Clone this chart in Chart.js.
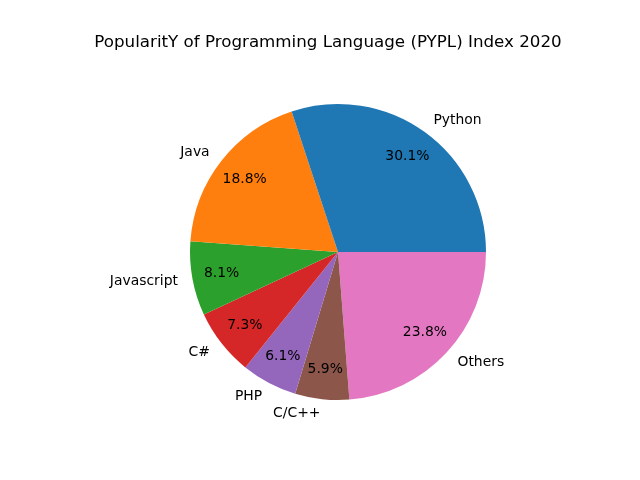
<!DOCTYPE html>
<html>
<head>
<meta charset="utf-8">
<script src="https://cdn.jsdelivr.net/npm/chart.js@4"></script>
<style>
html,body{margin:0;padding:0;background:#fff;}
#wrap{width:640px;height:480px;position:relative;}
</style>
</head>
<body>
<div id="wrap"><canvas id="c" width="640" height="480"></canvas></div>
<script>
const titleText = 'PopularitY of Programming Language (PYPL) Index 2020';
const categories = ['Python', 'Java', 'Javascript', 'C#', 'PHP', 'C/C++', 'Others'];
const shares = [30.1, 18.8, 8.1, 7.3, 6.1, 5.9, 23.8];
const colors = ['#1f77b4', '#ff7f0e', '#2ca02c', '#d62728', '#9467bd', '#8c564b', '#e377c2'];

// matplotlib draws counter-clockwise from 3 o'clock; Chart.js draws clockwise,
// so reverse the order and start at 3 o'clock.
const labelsR = categories.slice().reverse();
const dataR = shares.slice().reverse();
const colorsR = colors.slice().reverse();

const FONT = '"DejaVu Sans", sans-serif';

const labelPlugin = {
  id: 'mplLabels',
  afterDraw(chart) {
    const ctx = chart.ctx;
    ctx.save();
    ctx.fillStyle = '#000';
    ctx.font = '16.7px ' + FONT;
    ctx.textAlign = 'center';
    ctx.textBaseline = 'middle';
    ctx.fillText(titleText, 328, 43);
    const meta = chart.getDatasetMeta(0);
    meta.data.forEach((arc, i) => {
      const mid = (arc.startAngle + arc.endAngle) / 2;
      const R = arc.outerRadius;
      const cx = arc.x, cy = arc.y;
      ctx.font = '13.9px ' + FONT;
      // category label at 1.1R
      const lx = cx + 1.1 * R * Math.cos(mid);
      const ly = cy + 1.1 * R * Math.sin(mid);
      ctx.textAlign = Math.cos(mid) > 0 ? 'left' : 'right';
      ctx.textBaseline = 'middle';
      ctx.fillText(labelsR[i], lx, ly);
      // percentage at 0.8R
      const px = cx + 0.8 * R * Math.cos(mid);
      const py = cy + 0.8 * R * Math.sin(mid);
      ctx.textAlign = 'center';
      ctx.fillText(dataR[i].toFixed(1) + '%', px, py);
    });
    ctx.restore();
  }
};

new Chart(document.getElementById('c'), {
  type: 'pie',
  data: {
    labels: labelsR,
    datasets: [{
      data: dataR,
      backgroundColor: colorsR,
      borderWidth: 0
    }]
  },
  options: {
    responsive: false,
    animation: false,
    rotation: 90,
    layout: { padding: { left: 190, right: 154, top: 104, bottom: 80 } },
    plugins: {
      legend: { display: false },
      tooltip: { enabled: false },
      title: { display: false }
    }
  },
  plugins: [labelPlugin]
});
</script>
</body>
</html>
